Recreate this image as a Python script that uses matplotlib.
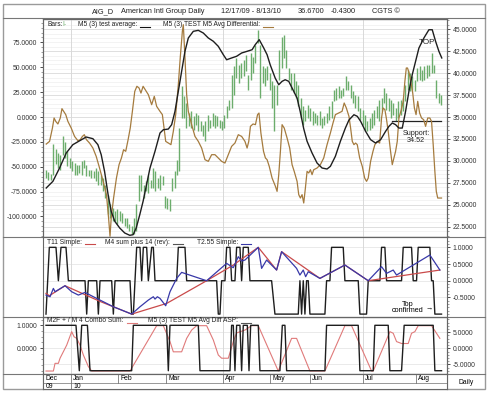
import matplotlib
matplotlib.use("Agg")
import matplotlib.pyplot as plt
from matplotlib.patches import Rectangle
from matplotlib.ticker import MultipleLocator, FormatStrFormatter

plt.rcParams['font.family'] = ['Liberation Sans', 'DejaVu Sans']

# x = trading day index, 0 = 12/17/09
bar_high = [29.0, 28.75, 28.52, 31.93, 31.4, 30.9, 30.72, 32.8, 32.2, 31.1, 30.34, 29.96, 29.8, 29.58,
            29.58, 29.96, 30.15, 29.58, 29.0, 29.0, 28.83, 29.2, 28.83, 28.45, 28.07, 27.31, 26.17, 25.04,
            24.66, 24.28, 24.47, 24.28, 24.09, 23.52, 23.52, 22.77, 22.58, 23.52, 25.04, 28.45, 28.45, 27.31,
            27.69, 28.45, 27.88, 29.2, 28.83, 28.07, 28.45, 28.26, 25.98, 25.8, 25.61, 28.07, 28.83, 30.15,
            33.75, 38.48, 37.35, 36.59, 35.45, 35.64, 35.08, 35.45, 35.27, 34.51, 34.13, 34.51, 35.27, 34.7,
            35.45, 35.27, 35.08, 34.7, 34.51, 35.27, 36.21, 36.97, 39.81, 40.76, 41.7, 40.95, 41.14, 41.52,
            42.08,
            39.81, 42.27, 41.89, 43.22, 44.92, 43.22, 40.76, 40.57, 40.76, 40.0, 39.05, 38.67, 38.67, 42.65,
            44.17, 44.36, 42.65, 40.57, 40.0, 40.0, 39.05, 38.67, 37.16, 36.21, 35.83, 36.40, 36.02, 35.64,
            35.45, 35.27, 35.64, 34.89, 35.08, 35.45, 36.21, 36.78, 38.11, 38.30, 38.48, 38.11, 38.30, 39.62,
            39.05,
            38.67, 37.92, 37.54, 37.35, 36.02, 35.83, 35.27, 34.51, 34.89, 35.45, 35.83, 36.21, 36.97, 37.16,
            38.30, 37.73, 37.16, 36.97, 36.59, 36.02, 36.78, 36.97, 37.16, 38.67, 40.38, 40.0, 39.62, 39.24,
            40.57, 40.76, 40.38, 40.76, 40.95, 40.95, 42.27, 40.95, 39.24, 37.73, 37.54]
bar_low = [28.07, 27.88, 27.8, 28.45, 29.6, 29.2, 29.0, 30.72, 30.34, 29.4, 29.2, 28.83, 28.45, 28.45,
           28.64, 28.45, 29.2, 28.26, 28.26, 28.07, 28.07, 27.69, 27.31, 27.31, 26.55, 25.8, 23.9, 23.52,
           23.14, 23.14, 22.77, 23.14, 22.95, 22.58, 22.39, 22.01, 21.63, 21.63, 22.01, 25.42, 26.55, 25.8,
           26.55, 26.36, 26.93, 26.93, 26.55, 26.93, 26.74, 27.31, 24.66, 24.47, 24.28, 26.55, 26.93, 28.45,
           28.83, 34.89, 34.89, 33.75, 33.94, 33.75, 33.56, 34.13, 33.37, 33.37, 32.8, 32.23, 33.37, 33.75,
           33.94, 33.75, 33.94, 33.75, 33.56, 33.75, 34.89, 35.83, 36.02, 37.54, 39.43, 38.86, 39.43, 39.62,
           40.19,
           38.11, 39.24, 40.0, 41.14, 43.41, 37.16, 38.86, 38.48, 39.24, 38.11, 36.02, 33.37, 36.40, 39.24,
           40.57, 41.70, 40.57, 39.24, 38.11, 37.73, 37.16, 36.21, 34.89, 34.13, 34.51, 34.89, 34.51, 34.13,
           34.32, 34.13, 34.13, 33.75, 34.13, 34.32, 34.70, 34.89, 36.78, 36.97, 37.16, 37.16, 37.35, 38.11,
           38.11,
           37.16, 36.59, 36.02, 35.64, 34.70, 34.13, 33.37, 33.37, 33.56, 33.75, 34.13, 34.89, 34.51, 35.64,
           36.59, 35.83, 35.64, 34.89, 35.27, 34.51, 34.89, 35.27, 35.64, 36.78, 38.11, 37.92, 38.11, 37.92,
           39.05, 39.24, 39.05, 39.24, 39.43, 39.62, 40.0, 40.0, 37.16, 36.59, 36.40]

# M5 (3) test average (black, left scale)
avg_x = [0.1, 2.9, 5.7, 8.5, 11.3, 14.2, 16.9, 19.7, 21.8, 23.2, 24.6, 26.1, 27.4, 28.9, 31.0, 33.1,
         35.2, 36.6, 37.9, 39.4, 40.8, 43.7, 45.8, 47.9, 49.3, 51.4, 52.8, 54.2, 55.6, 57.0, 58.4, 59.8,
         61.9, 64.0, 66.1, 68.2, 70.3, 72.4, 74.5, 75.9, 78.0, 80.1, 82.2, 84.5, 86.6, 87.9, 89.6, 91.5,
         92.9, 94.2, 96.3, 97.8, 99.2, 100.5, 102.0, 103.4, 105.5, 106.8, 108.3, 109.7, 111.8, 113.9,
         116.0, 118.1, 119.5, 121.6, 123.7, 125.8, 127.3, 129.4, 130.8, 132.2, 134.3, 136.4, 138.5,
         140.6, 142.7, 144.1, 145.5, 146.9, 148.3, 149.7, 151.1, 152.5, 153.9, 155.3, 156.7, 158.8,
         160.9, 162.3, 163.7, 165.1, 166.3]
avg_y = [-71.4, -64.7, -51.3, -36.2, -27.8, -23.8, -20.1, -21.8, -27.8, -37.9, -54.6, -78.1, -94.9,
         -104.9, -111.7, -116.7, -119.0, -118.4, -111.7, -98.3, -84.8, -51.3, -34.5, -16.1, -12.8, -12.1,
         -7.7, 5.7, 25.9, 46.0, 66.1, 79.5, 86.2, 87.2, 84.5, 79.5, 76.2, 71.1, 62.7, 57.6, 59.4, 61.1,
         64.4, 66.1, 67.7, 72.7, 77.8, 69.4, 62.7, 52.6, 39.2, 32.5, 35.9, 37.5, 35.9, 29.2, 19.1, 5.7,
         -11.8, -24.4, -36.2, -46.3, -51.3, -52.3, -49.6, -39.5, -24.4, -11.1, -3.0, 2.3, 0.7, -4.3,
         -14.4, -22.8, -26.2, -22.8, -14.4, -9.4, -6.0, -7.7, -11.1, -11.1, 5.7, 25.9, 42.6, 56.0, 69.4,
         79.5, 87.8, 87.8, 76.2, 66.1, 59.4]

# M5 (3) TEST M5 Avg Differential (tan, left scale)
diff_x = [0.1, 1.5, 2.7, 3.4, 4.1, 5.0, 6.0, 6.7, 7.4, 8.3, 9.2, 10.6, 12.0, 13.4, 14.4, 15.3, 16.1,
          17.0, 18.3, 19.7, 21.1, 22.5, 24.0, 25.4, 26.3, 26.9, 27.4, 28.4, 29.6, 30.7, 31.7, 32.6, 33.5,
          34.5, 35.4, 36.3, 37.3, 38.2, 39.1, 39.9, 40.8, 43.0, 44.4, 45.5, 46.5, 47.9, 48.9, 49.7, 50.3,
          51.4, 52.5, 53.5, 54.5, 55.6, 56.4, 57.3, 57.7, 58.4, 59.1, 59.8, 61.2, 62.6, 64.0, 65.4, 66.8,
          68.2, 69.6, 71.0, 72.4, 73.8, 75.2, 76.6, 78.0, 79.4, 80.8, 82.2, 83.6, 84.5, 85.2, 85.9, 87.0,
          88.0, 88.9, 89.5, 90.3, 91.4, 92.2, 92.9, 93.8, 95.0, 96.4, 97.1, 97.8, 98.5, 99.2, 100.1,
          101.3, 102.4, 103.4, 104.3, 105.5, 106.2, 106.9, 107.6, 108.3, 109.0, 109.7, 110.4, 111.1,
          111.8, 112.5, 113.9, 115.3, 116.7, 118.1, 119.5, 120.6, 121.6, 123.0, 124.4, 125.3, 126.2,
          127.3, 128.0, 128.7, 129.4, 130.1, 130.8, 131.8, 132.9, 133.9, 134.7, 135.4, 136.4, 137.4,
          138.2, 139.2, 140.2, 141.0, 141.6, 142.4, 143.0, 143.8, 144.7, 145.5, 146.2, 146.9, 147.6,
          148.3, 149.3, 150.1, 150.8, 151.4, 151.9, 152.6, 153.4, 154.1, 154.8, 155.5, 156.2, 157.0,
          157.8, 158.7, 159.5, 160.4, 161.3, 162.0, 162.7, 163.4, 164.0, 164.6, 165.4, 166.2]
diff_y = [-27.2, -24.5, -11.1, -1.0, -4.4, -7.0, -1.0, 8.4, 5.7, 2.4, -4.4, -11.1, -19.5, -23.8, -22.8,
          -19.5, -17.8, -22.8, -26.2, -31.2, -39.6, -51.3, -64.7, -78.1, -101.6, -120.0, -101.6, -81.5,
          -61.4, -47.9, -41.2, -32.9, -34.5, -22.8, -11.1, 5.7, 25.8, 30.9, 29.2, 24.1, 30.9, 22.5, 12.4,
          20.8, 10.7, 5.7, 2.4, -12.7, -24.5, -26.2, -27.8, -14.4, 2.4, 32.5, 59.4, 86.2, 92.9, 59.4,
          22.5, 5.7, -7.7, -19.5, -24.5, -31.2, -42.9, -44.6, -37.9, -37.9, -41.2, -44.6, -46.3, -37.9,
          -29.5, -26.2, -17.8, -19.5, -24.5, -31.2, -24.5, -9.4, -7.0, -7.7, 2.4, 4.0, -16.1, -34.5,
          -41.2, -42.9, -49.6, -61.4, -69.7, -74.8, -58.0, -34.5, -7.7, -11.1, -21.1, -31.2, -47.9,
          -54.7, -64.7, -78.1, -81.5, -78.1, -86.5, -71.4, -54.7, -56.3, -53.0, -58.0, -53.0, -51.3,
          -47.9, -41.2, -27.8, -16.1, -6.0, 2.4, 4.0, 5.7, 14.1, 9.1, 0.7, -11.1, -24.5, -27.8, -26.2,
          -27.8, -41.2, -49.6, -61.4, -64.7, -61.4, -44.6, -34.5, -27.8, -24.5, -26.2, -1.0, 9.1, 7.4,
          -1.0, -14.4, -32.9, -47.9, -41.2, -34.5, -24.5, -1.0, 7.4, 15.8, 35.9, 49.3, 49.3, 44.3, 34.2,
          24.1, 9.1, 2.4, 15.8, 4.0, -1.0, -2.7, -9.4, -1.0, -1.0, -4.4, -27.8, -54.7, -74.8, -81.5,
          -81.5, -81.5]

support_level = 34.52
support_x = [145.4, 166.0]

# middle panel
t11_x = [0, 1.4, 8.0, 22.7, 36.0, 50.7, 67.5, 78.7, 83.6, 89.2, 96.9, 99.0, 115.1, 125.6, 135.4, 165.5]
t11_y = [-0.38, -0.45, -0.15, -0.62, -1.0, -0.68, 0.0, 0.47, 0.72, 1.0, 0.32, 0.87, 0.07, 0.47, 0.0, 0.32]
t255_x = [0, 1.7, 3.1, 3.8, 8.0, 10.8, 13.6, 16.4, 19.9, 22.7, 28.3, 36.0, 39.5, 43.0, 45.1, 45.8, 46.8,
          47.9, 50.3, 52.1, 54.9, 57.0, 67.5, 75.9, 78.7, 80.8, 82.2, 83.6, 89.2, 90.6, 92.7, 96.9, 99.0,
          105.3, 106.7, 108.1, 109.1, 110.2, 115.1, 125.6, 135.4, 141.0, 143.1, 145.9, 147.3, 161.3, 165.5]
t255_y = [-0.43, -0.48, -0.23, -0.33, -0.15, -0.33, -0.43, -0.35, -0.48, -0.58, -0.78, -1.0, -0.78, -0.58,
          -0.48, -0.55, -0.48, -0.53, -0.75, -0.33, 0.07, 0.25, 0.0, 0.52, 0.39, 0.72, 0.59, 0.62, 1.0,
          0.37, 0.62, 0.32, 0.87, 0.37, 0.17, 0.32, 0.12, 0.27, 0.07, 0.47, 0.0, 0.42, 0.22, 0.32, 0.17,
          0.77, 0.32]
m4_x = [0, 1.4, 4.2, 5.2, 6.3, 8.4, 9.4, 16.4, 17.1, 17.8, 21.3, 22.0, 22.7, 27.6, 28.3, 29.0, 35.3, 36.0,
        36.7, 38.1, 39.5, 40.2, 40.9, 42.3, 43.0, 44.4, 45.1, 45.8, 54.9, 55.6, 58.4, 59.1, 71.7, 72.4,
        73.1, 73.8, 75.2, 75.9, 77.3, 78.0, 79.4, 80.1, 81.5, 82.2, 82.9, 85.0, 85.7, 94.8, 96.2, 106.0,
        106.7, 107.4, 108.1, 108.8, 109.5, 110.2, 110.9, 117.2, 117.9, 119.3, 120.0, 124.9, 125.6, 131.2,
        131.9, 134.7, 135.4, 140.3, 141.0, 142.4, 143.1, 149.4, 150.1, 153.6, 154.3, 155.7, 156.4, 161.3,
        162.0, 162.7, 163.4, 166.2]
m4_y = [-1, 1, 1, 0, 1, 1, 0, 0, -1, 0, 0, -1, 0, 0, -1, 0, 0, -1,
        -1, 1, 1, 0, 1, 1, 0, 1, 1, 0, 0, 1, 1, 0, 0, -1,
        -1, 0, 0, 1, 1, 0, 0, 1, 1, 0, 1, 1, 0, 0, -1, -1,
        0, -1, 0, -1, 0, 0, -1, -1, 0, 0, 1, 1, 0, 0,
        -1, -1, 0, 0, 1, 1, 0, 0, 1, 1, 0, 0, 1, 1,
        0, 0, -1, -1]

# bottom panel
asp_x = [0, 12.6, 14.0, 15.0, 17.4, 18.5, 36.0, 36.7, 50.7, 51.4, 52.1, 64.0, 64.7, 77.3, 78.0, 78.7,
         79.4, 80.1, 81.5, 82.2, 82.9, 84.6, 85.3, 86.0, 89.2, 89.9, 98.3, 99.3, 100.4, 101.1, 117.2,
         117.9, 131.2, 131.9, 137.5, 138.2, 143.8, 144.5, 149.4, 150.5, 162.7, 163.4, 166.2]
asp_y = [1, 1, -1, 1, 1, -1, -1, 1, 1, -1, 1, 1, -1, -1, 1, 1,
         -1, 1, 1, -1, 1, 1, -1, 1, 1, -1, -1, 1, 1, -1, -1,
         1, 1, -1, -1, 1, 1, -1, -1, 1, 1, -1, -1]
combo_x = [0, 3.1, 3.8, 5.2, 5.9, 8.7, 10.8, 11.8, 12.9, 14.3, 15.7, 17.8, 19.2, 35.3, 46.5, 49.3, 52.1,
           53.5, 57.0, 59.1, 61.2, 63.3, 67.5, 70.3, 72.4, 73.8, 76.6, 78.7, 80.1, 83.6, 86.4, 89.2,
           97.6, 103.2, 105.3, 110.9, 117.2, 125.6, 128.4, 136.8, 137.5, 144.5, 145.9, 147.3, 149.4,
           152.2, 153.6, 155.0, 156.4, 162.0, 165.5]
combo_y = [-7.1, -7.1, -4.7, -4.7, -3.1, 1.0, 5.2, 3.6, 3.1, 1.0, -2.1, -5.7, -7.1, -7.1, 7.07, 7.07, 2.1,
           -1.1, -1.1, 3.1, 5.7, 7.07, 7.07, 2.6, -2.1, -3.1, -3.1, 2.1, 4.8, 5.7, 7.07, 7.07,
           -7.1, 3.1, 3.1, -7.1, -7.1, 7.07, 7.07, -7.1, -7.1, 5.2, 4.7, 2.1, 1.5,
           1.5, 4.7, 5.2, 7.07, 7.07, 3.1]

month_pos = [10.5, 30.3, 50.4, 74.4, 94.1, 110.9, 133.2, 155.5]
month_lbl = ['Jan', 'Feb', 'Mar', 'Apr', 'May', 'Jun', 'Jul', 'Aug']
quarter_pos = [10.5, 74.4, 133.2]

W, H = 490, 393
XLIM = (-1.26, 168.5)
GREEN = '#6cad6c'
TAN = '#a57b3e'
RED = '#c94a4a'
PINK = '#e07a7a'
BLUE = '#3838a8'
FS = 4.9
LFS = 4.8


def rect(top, bottom, left=43, right=447):
    return [left / W, 1 - bottom / H, (right - left) / W, (bottom - top) / H]


def style(ax):
    for s in ax.spines.values():
        s.set_color('#666666')
        s.set_linewidth(0.8)
    ax.tick_params(axis='y', which='major', labelsize=FS, length=2.5, width=0.6, pad=1.5, colors='#333333')
    ax.tick_params(axis='y', which='minor', length=1.5, width=0.5, colors='#777777')
    ax.set_xlim(*XLIM)
    ax.set_xticks([])


fig = plt.figure(figsize=(4.9, 3.93), dpi=100)
renderer = fig.canvas.get_renderer()

bg = fig.add_axes([0, 0, 1, 1], zorder=-5)
bg.set_xlim(0, W)
bg.set_ylim(H, 0)
bg.axis('off')
bg.add_patch(Rectangle((3, 4), 482, 385, fill=False, ec='#9a9a9a', lw=1.0))
for yy in [18, 237, 317, 374]:
    bg.plot([3, 485], [yy, yy], color='#777777', lw=0.8)
bg.plot([447, 447], [374, 389], color='#777777', lw=0.8)
bg.plot([43, 43], [374, 389], color='#777777', lw=0.8)

# overlay for header / legend texts, drawn above the panels
top = fig.add_axes([0, 0, 1, 1], zorder=20)
top.set_xlim(0, W)
top.set_ylim(H, 0)
top.axis('off')
top.patch.set_visible(False)


def legend_item(x, y, label, color, swatch=None):
    # label text, then a short coloured stroke right after it
    t = top.text(x, y, label, fontsize=LFS, va='center', ha='left', color=swatch or '#222222')
    bb = t.get_window_extent(renderer)
    x_end = bb.x1 * W / fig.bbox.width
    if color is not None:
        top.plot([x_end + 3, x_end + 13], [y + 2.2, y + 2.2], color=color, lw=0.8)


hdr = [(92, 'AIG_D'), (121, 'American Intl Group Daily'), (221, '12/17/09 - 8/13/10'),
       (298, '36.6700'), (331, '-0.4300'), (372, 'CGTS \u00a9')]
for hx, ht in hdr:
    top.text(hx, 11.5, ht, fontsize=5.3, va='center', ha='left', color='#222222')

# ---- main panel ----
axl = fig.add_axes(rect(19, 237), zorder=2)
axp = axl.twinx()
axp.set_zorder(1)
axl.patch.set_visible(False)

axp.set_ylim(21.33, 46.17)
axp.set_yticks([22.5 + 2.5 * k for k in range(10)])
axp.yaxis.set_major_formatter(FormatStrFormatter('%.4f'))
axp.yaxis.set_minor_locator(MultipleLocator(0.5))
axp.grid(which='major', axis='y', color='#d9d9d9', lw=0.6)
axp.grid(which='minor', axis='y', color='#efefef', lw=0.5)
for q in quarter_pos:
    axp.axvline(q, color='#d9d9d9', lw=0.7)
xs = list(range(len(bar_high)))
axp.vlines(xs, bar_low, bar_high, color=GREEN, lw=1.0)
style(axp)

axl.set_ylim(-120.7, 98.6)
axl.set_yticks([-100, -75, -50, -25, 0, 25, 50, 75])
axl.yaxis.set_major_formatter(FormatStrFormatter('%.4f'))
axl.yaxis.set_minor_locator(MultipleLocator(5))
axl.plot(diff_x, diff_y, color=TAN, lw=0.9)
axl.plot(avg_x, avg_y, color='#1e1e1e', lw=1.0)
style(axl)

axp.plot(support_x, [support_level, support_level], color='#222222', lw=0.9, zorder=5)
axp.text(155.5, 32.75, 'Support:\n34.52', fontsize=5.2, ha='center', va='center', linespacing=0.95,
         color='#222222', zorder=6)
axp.text(160.0, 43.44, 'TOP', fontsize=5.8, ha='center', va='center', color='#222222', zorder=6)

legend_item(47, 24.5, 'Bars:', None)
legend_item(62, 24.5, 'I-', None, swatch=GREEN)
legend_item(78, 24.5, 'M5 (3) test average:', '#111111')
legend_item(163, 24.5, 'M5 (3) TEST M5 Avg Differential:', TAN)

# ---- middle panel ----
ax2 = fig.add_axes(rect(237, 317), zorder=1)
ax2.yaxis.tick_right()
ax2.set_ylim(-1.087, 1.31)
ax2.set_yticks([1.0, 0.5, 0.0, -0.5])
ax2.yaxis.set_major_formatter(FormatStrFormatter('%.4f'))
ax2.yaxis.set_minor_locator(MultipleLocator(0.1))
ax2.grid(which='major', axis='y', color='#e2e2e2', lw=0.5)
for q in quarter_pos:
    ax2.axvline(q, color='#d9d9d9', lw=0.7)
ax2.plot(m4_x, m4_y, color='#1e1e1e', lw=1.0)
ax2.plot(t11_x, t11_y, color=RED, lw=0.9)
ax2.plot(t255_x, t255_y, color=BLUE, lw=0.9)
ax2.text(152.1, -0.80, 'Top\nconfirmed', fontsize=5.2, ha='center', va='center', linespacing=0.95)
ax2.text(160.8, -0.80, '\u2192', fontsize=5.2, ha='center', va='center')
style(ax2)

legend_item(47, 242, 'T11 Simple:', RED)
legend_item(105, 242, 'M4 sum plus 14 (rev):', '#555555')
legend_item(197, 242, 'T2.55 Simple:', BLUE)

# ---- bottom panel ----
ax3l = fig.add_axes(rect(317, 374), zorder=2)
ax3r = ax3l.twinx()
ax3r.set_zorder(1)
ax3l.patch.set_visible(False)

ax3r.set_ylim(-8.03, 9.78)
ax3r.set_yticks([5, 0, -5])
ax3r.yaxis.set_major_formatter(FormatStrFormatter('%.4f'))
ax3r.yaxis.set_minor_locator(MultipleLocator(1))
ax3r.grid(which='major', axis='y', color='#e2e2e2', lw=0.5)
for q in quarter_pos:
    ax3r.axvline(q, color='#d9d9d9', lw=0.7)
ax3r.plot(combo_x, combo_y, color=PINK, lw=0.8)
style(ax3r)

ax3l.set_ylim(-1.145, 1.366)
ax3l.set_yticks([1.0, 0.0])
ax3l.yaxis.set_major_formatter(FormatStrFormatter('%.4f'))
ax3l.yaxis.set_minor_locator(MultipleLocator(0.25))
ax3l.plot(asp_x, asp_y, color='#1e1e1e', lw=1.0)
style(ax3l)

legend_item(47, 321, 'M2F + / M 4 Combo Sum:', PINK)
legend_item(148, 321, 'M5 (3) TEST M5 Avg Diff ASP:', '#555555')

# ---- date axis ----
axd = fig.add_axes(rect(374, 389), zorder=1)
axd.set_xlim(*XLIM)
axd.set_ylim(0, 15)
axd.set_xticks([])
axd.set_yticks([])
for s in axd.spines.values():
    s.set_color('#666666')
    s.set_linewidth(0.8)
axd.axhline(6, color='#888888', lw=0.6)
axd.text(0.0, 10.5, 'Dec', fontsize=FS, va='center', ha='left')
axd.text(0.0, 3.0, '09', fontsize=FS, va='center', ha='left')
for mp, ml in zip(month_pos, month_lbl):
    axd.plot([mp, mp], [6, 15], color='#777777', lw=0.6)
    axd.text(mp + 0.9, 10.5, ml, fontsize=FS, va='center', ha='left')
axd.plot([month_pos[0], month_pos[0]], [0, 6], color='#777777', lw=0.6)
axd.text(month_pos[0] + 0.9, 3.0, '10', fontsize=FS, va='center', ha='left')

top.text(466, 382, 'Daily', fontsize=FS, ha='center', va='center')

fig.savefig('out.png', dpi=100)
